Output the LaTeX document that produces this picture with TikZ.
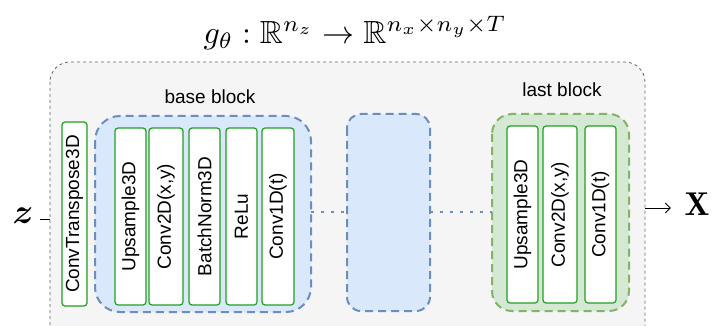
\documentclass[tikz,border=0pt]{standalone}
\usepackage{amsmath,amssymb,bm}
\usepackage{fontspec}
\newfontfamily\labfont{Liberation Sans}
\usetikzlibrary{arrows.meta}
\definecolor{outerfill}{HTML}{F5F5F5}
\definecolor{outerline}{HTML}{666666}
\definecolor{bluefill}{HTML}{DAE8FC}
\definecolor{blueline}{HTML}{6C8EBF}
\definecolor{greenfill}{HTML}{D5E8D4}
\definecolor{greenline}{HTML}{82B366}
\definecolor{layerline}{HTML}{1FA01F}
\tikzset{
  outerbox/.style={draw=outerline, fill=outerfill, line width=0.8pt, dash pattern=on 3pt off 3pt, rounded corners=20pt},
  blockbox/.style={draw=blueline, fill=bluefill, line width=2pt, dash pattern=on 8pt off 5pt, rounded corners=#1},
  lastbox/.style={draw=greenline, fill=greenfill, line width=2pt, dash pattern=on 8pt off 5pt, rounded corners=20pt},
  layer/.style={draw=layerline, fill=white, line width=1.2pt, rounded corners=3pt},
  layertext/.style={font=\labfont\fontsize{19}{22}\selectfont, rotate=90, inner sep=0pt},
  blocklabel/.style={font=\labfont\fontsize{19}{22}\selectfont, inner sep=0pt},
  dotline/.style={draw=blueline, line width=2pt, dash pattern=on 2.5pt off 7.5pt},
}
\begin{document}
\begin{tikzpicture}[x=1pt,y=-1pt]
\useasboundingbox (0,0) rectangle (712,326);
% outer container
\draw[outerbox] (50,62) rectangle (645,345);
\coordinate (inL) at (50,219);
\coordinate (outR) at (645,208);
% title
\node[scale=3.2, inner sep=0pt] (title) at (355,33) {$g_\theta : \mathbb{R}^{n_z} \rightarrow \mathbb{R}^{n_x\times n_y\times T}$};
% base block
\draw[blockbox=25pt] (95,116) rectangle (311,312);
\node[blocklabel] (baselab) at (210,97) {base block};
% middle block
\draw[blockbox=14pt] (347,114) rectangle (430,311);
% last block
\draw[lastbox] (492,114) rectangle (629,311);
\node[blocklabel] (lastlab) at (562,90) {last block};
% layers
\draw[layer] (62,122) rectangle (87,306);
\node[layertext] (ct) at (74.5,214) {ConvTranspose3D};
\draw[layer] (115,128) rectangle (146,305);
\node[layertext] (up1) at (130.5,216.5) {Upsample3D};
\draw[layer] (149,128) rectangle (183,305);
\node[layertext] (c2a) at (166,216.5) {Conv2D(x,y)};
\draw[layer] (189,128) rectangle (220,305);
\node[layertext] (bn) at (204.5,216.5) {BatchNorm3D};
\draw[layer] (226,128) rectangle (257,305);
\node[layertext] (relu) at (241.5,216.5) {ReLu};
\draw[layer] (262,128) rectangle (294,305);
\node[layertext] (c1a) at (278,216.5) {Conv1D(t)};
\draw[layer] (507,126) rectangle (538,303);
\node[layertext] (up2) at (522.5,214.5) {Upsample3D};
\draw[layer] (543,126) rectangle (577,303);
\node[layertext] (c2b) at (560,214.5) {Conv2D(x,y)};
\draw[layer] (585,126) rectangle (616,303);
\node[layertext] (c1b) at (600.5,214.5) {Conv1D(t)};
% dotted links
\coordinate (d1a) at (311,212);
\coordinate (d1b) at (347,212);
\coordinate (d2a) at (430,212);
\coordinate (d2b) at (492,212);
\draw[dotline] (d1a) -- (d1b);
\draw[dotline] (d2a) -- (d2b);
% input and output
\node[scale=3.5, inner sep=0pt] (z) at (23,216) {$\bm{z}$};
\draw[line width=0.8pt] (z.east |- inL) ++(6,0) -- (inL);
\node[scale=3.3, inner sep=0pt] (X) at (697,204) {$\mathbf{X}$};
\draw[line width=0.8pt, -{Straight Barb[length=5pt,width=10pt]}, shorten >=13pt] (outR) -- (X.west |- outR);
\end{tikzpicture}
\end{document}
